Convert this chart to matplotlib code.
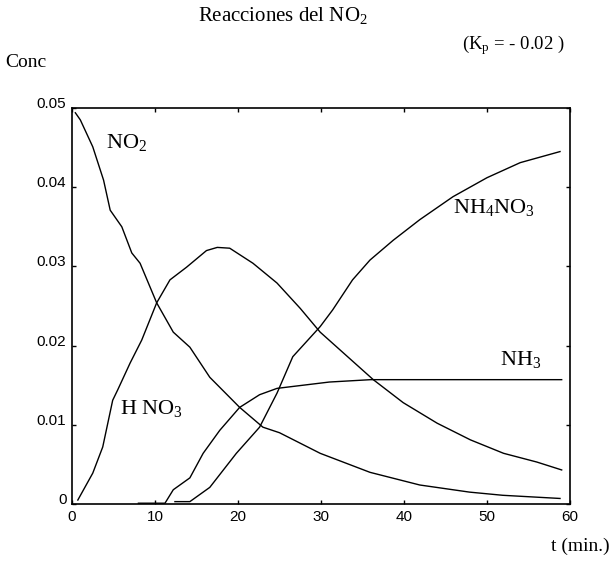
import numpy as np
import matplotlib
matplotlib.use("Agg")
import matplotlib.pyplot as plt

plt.rcParams['font.family'] = ['Liberation Serif', 'DejaVu Serif']
plt.rcParams['mathtext.fontset'] = 'custom'
plt.rcParams['mathtext.rm'] = 'Liberation Serif'
plt.rcParams['mathtext.it'] = 'Liberation Serif:italic'

# datos
t_no2 = [0.4, 1.0, 2.5, 3.8, 4.6, 6.0, 7.2, 8.2, 10.2, 12.2, 14.2, 16.6, 20.2,
         23.0, 25.0, 29.9, 35.9, 41.9, 47.9, 51.9, 58.8]
c_no2 = [0.0494, 0.0485, 0.0451, 0.0409, 0.0371, 0.0350, 0.0317, 0.0304, 0.0254,
         0.0217, 0.0198, 0.0160, 0.0122, 0.0097, 0.0090, 0.0064, 0.0040, 0.0024,
         0.0015, 0.0011, 0.0007]

t_hno3 = [0.7, 2.5, 3.7, 4.9, 5.5, 7.0, 8.4, 10.2, 11.8, 13.8, 16.2, 17.5, 19.0,
          21.8, 24.7, 27.5, 29.9, 36.3, 39.9, 44.0, 48.0, 52.0, 56.0, 59.0]
c_hno3 = [0.0005, 0.0039, 0.0072, 0.0131, 0.0144, 0.0178, 0.0207, 0.0254, 0.0283,
          0.0299, 0.0320, 0.0324, 0.0323, 0.0304, 0.0279, 0.0247, 0.0217, 0.0157,
          0.0128, 0.0102, 0.0081, 0.0064, 0.0053, 0.0043]

t_nh3 = [8.0, 11.2, 12.2, 14.2, 15.8, 17.8, 20.2, 22.6, 24.7, 31.0, 36.0, 45.0, 59.0]
c_nh3 = [0.0001, 0.0001, 0.0018, 0.0033, 0.0064, 0.0093, 0.0122, 0.0138, 0.0146,
         0.0154, 0.0157, 0.0157, 0.0157]

t_nh4no3 = [12.4, 14.2, 16.6, 19.8, 22.6, 24.7, 26.6, 29.9, 31.4, 33.8, 35.9, 38.7,
            41.9, 45.9, 50.0, 54.0, 58.8]
c_nh4no3 = [0.0003, 0.0003, 0.0021, 0.0064, 0.0097, 0.0140, 0.0186, 0.0224, 0.0245,
            0.0283, 0.0308, 0.0333, 0.0359, 0.0388, 0.0412, 0.0431, 0.0445]

x_ticks = [0, 10, 20, 30, 40, 50, 60]
y_ticks = [0, 0.01, 0.02, 0.03, 0.04, 0.05]
y_labels = ['0', '0.01', '0.02', '0.03', '0.04', '0.05']

fig = plt.figure(figsize=(6.14, 5.62), dpi=100)
ax = fig.add_axes([0.1173, 0.1032, 0.811, 0.7046])

for t, c in [(t_no2, c_no2), (t_hno3, c_hno3), (t_nh3, c_nh3), (t_nh4no3, c_nh4no3)]:
    ax.plot(t, c, color='black', lw=1.0)

ax.set_xlim(0, 60)
ax.set_ylim(0, 0.05)
ax.set_xticks(x_ticks)
ax.set_xticklabels([str(v) for v in x_ticks], family='Liberation Sans', fontsize=11)
ax.set_yticks(y_ticks)
ax.set_yticklabels(y_labels, family='Liberation Sans', fontsize=11)
for lab in ax.get_yticklabels():
    lab.set_verticalalignment('baseline')
ax.tick_params(direction='in', length=3, width=1, top=True, right=True, pad=4)
for s in ax.spines.values():
    s.set_linewidth(1.2)

# etiquetas de las curvas
ax.text(6.6, 0.0457, 'NO$_\\mathrm{2}$', fontsize=16, ha='center', va='center')
ax.text(5.8, 0.0121, 'H NO$_\\mathrm{3}$', fontsize=16, ha='left', va='center')
ax.text(45.9, 0.0374, 'NH$_\\mathrm{4}$NO$_\\mathrm{3}$', fontsize=16, ha='left', va='center')
ax.text(51.6, 0.0183, 'NH$_\\mathrm{3}$', fontsize=16, ha='left', va='center')

fig.text(0.461, 0.973, 'Reacciones del NO$_\\mathrm{2}$', fontsize=15, ha='center', va='center')
fig.text(0.008, 0.888, 'Conc', fontsize=14, ha='left', va='center')
fig.text(0.752, 0.92, '(K$_\\mathrm{p}$ = - 0.02 )', fontsize=13.5, ha='left', va='center')
fig.text(0.993, 0.027, 't (min.)', fontsize=14, ha='right', va='center')

fig.savefig('out.png', dpi=100)
